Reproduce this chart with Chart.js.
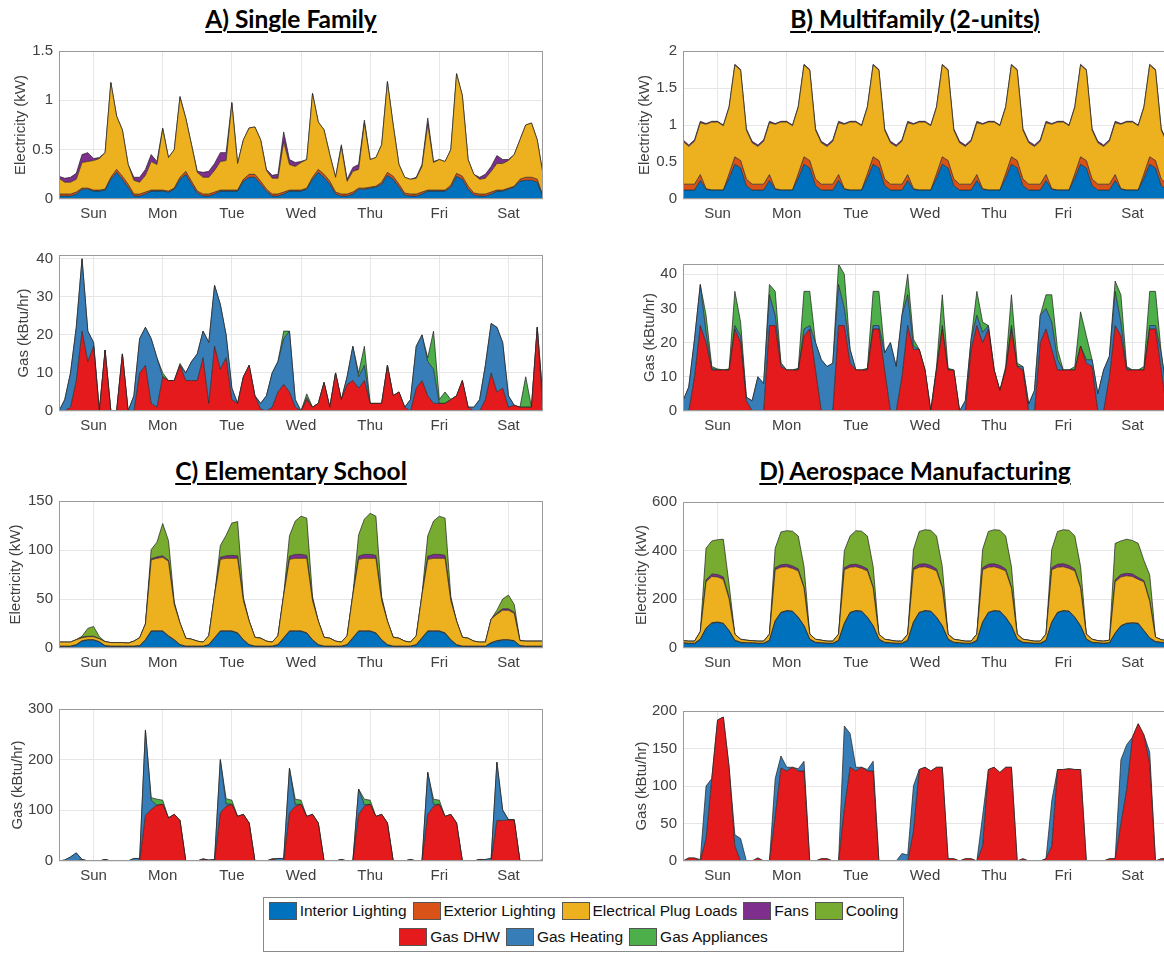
<!DOCTYPE html>
<html>
<head>
<meta charset="utf-8">
<script src="https://cdn.jsdelivr.net/npm/chart.js@4.4.0/dist/chart.umd.min.js"></script>
<style>
  html, body { margin:0; padding:0; background:#fff; }
  body { width:1164px; height:954px; overflow:hidden; position:relative; }
  .ttl { position:absolute; width:500px; text-align:center; font:bold 24.5px Lato, "Open Sans", sans-serif;
         text-decoration:underline; text-underline-offset:3px; color:#000; }
  #legend { position:absolute; left:263px; top:897px; width:641px; height:55px; border:1px solid #8a8a8a;
            box-sizing:border-box; font:15.5px "Liberation Sans", Arial, sans-serif; color:#111; }
  .row { display:flex; justify-content:center; align-items:center; height:26px; }
  .item { display:flex; align-items:center; margin:0 3px; }
  .sw { width:28px; height:18px; border:1px solid #555; box-sizing:border-box; margin-right:3px; }
</style>
</head>
<body>
<div class="ttl" style="left:41px;top:4px">A) Single Family</div>
<div class="ttl" style="left:665px;top:4px">B) Multifamily (2-units)</div>
<div class="ttl" style="left:41px;top:456px">C) Elementary School</div>
<div class="ttl" style="left:665px;top:456px">D) Aerospace Manufacturing</div>
<div id="legend"></div>
<script>
'use strict'

const dayNames = ['Sun','Mon','Tue','Wed','Thu','Fri','Sat']
const dayTicks = [12,36,60,84,108,132,156]
const hours = Array.from({length: 85}, (_, i) => i * 2)   // 2-hour steps over one week

const colors = {
  interior: '#0072BD', exterior: '#D95319', plug: '#EDB120', fans: '#7E2F8E', cooling: '#77AC30',
  dhw: '#E41A1C', heating: '#377EB8', appliances: '#4DAF4A'
}

// ---------- A) Single Family ----------
const aInterior = [
  0.03,0.03,0.03,0.05,0.10,0.10,0.08,0.08,0.09,0.20,0.27,0.20,
  0.12,0.03,0.03,0.05,0.08,0.08,0.08,0.07,0.10,0.20,0.25,0.15,
  0.06,0.03,0.03,0.05,0.08,0.08,0.08,0.08,0.18,0.22,0.22,0.15,
  0.08,0.03,0.03,0.05,0.08,0.08,0.08,0.10,0.20,0.27,0.22,0.15,
  0.05,0.03,0.03,0.05,0.10,0.10,0.11,0.12,0.15,0.24,0.20,0.12,
  0.04,0.03,0.03,0.05,0.08,0.08,0.08,0.08,0.12,0.23,0.20,0.10,
  0.04,0.03,0.03,0.05,0.08,0.08,0.10,0.12,0.18,0.19,0.19,0.17,
  0.02]
const aExterior = [
  0.02,0.02,0.02,0.02,0.01,0.01,0.01,0.01,0.01,0.02,0.03,0.03,
  0.03,0.02,0.02,0.02,0.01,0.01,0.01,0.01,0.01,0.02,0.03,0.03,
  0.02,0.02,0.02,0.02,0.01,0.01,0.01,0.01,0.02,0.03,0.03,0.03,
  0.02,0.02,0.02,0.02,0.01,0.01,0.01,0.01,0.02,0.03,0.03,0.03,
  0.02,0.02,0.02,0.02,0.01,0.01,0.01,0.01,0.02,0.03,0.03,0.03,
  0.02,0.02,0.02,0.02,0.01,0.01,0.01,0.01,0.02,0.03,0.03,0.03,
  0.02,0.02,0.02,0.02,0.01,0.01,0.01,0.01,0.02,0.03,0.03,0.03,
  0.01]
const aPlug = [
  0.16,0.12,0.12,0.13,0.26,0.27,0.30,0.32,0.37,0.96,0.54,0.47,
  0.20,0.14,0.12,0.17,0.29,0.26,0.62,0.34,0.39,0.81,0.54,0.37,
  0.19,0.17,0.17,0.22,0.29,0.30,0.88,0.27,0.40,0.47,0.48,0.42,
  0.19,0.16,0.16,0.51,0.26,0.24,0.28,0.29,0.85,0.48,0.45,0.27,
  0.15,0.48,0.13,0.21,0.19,0.66,0.28,0.29,0.38,0.92,0.52,0.20,
  0.16,0.15,0.16,0.26,0.67,0.28,0.31,0.29,0.36,1.01,0.82,0.27,
  0.19,0.15,0.16,0.21,0.27,0.27,0.28,0.32,0.40,0.53,0.55,0.40,
  0.22]
const aFans = [
  0.02,0.04,0.05,0.06,0.08,0.09,0.02,0.01,0,0,0,0,
  0,0.03,0.05,0.06,0.07,0.03,0.01,0,0,0.01,0,0,
  0.01,0.05,0.06,0.07,0.09,0.08,0.01,0,0,0,0,0,
  0.01,0.03,0.04,0.10,0.05,0.04,0.01,0,0,0,0,0,
  0,0.02,0.02,0.04,0.05,0.03,0,0,0,0,0,0,
  0,0,0.01,0.02,0.06,0.01,0,0,0,0,0,0,
  0,0.02,0.04,0.05,0.08,0.04,0.01,0,0,0,0,0,
  0]
const aGasDhw = [
  0,0,1,8,21,13,17,0,16,0,0,15,
  0,0,10,12,2,1,9,8,8,12,8,8,
  8,14,2,17,11,14,3,2,9,12,4,0.5,
  0,1,5,7,5,1,0,3,1,2,7.5,1,
  10,3,7,8,6,8,2,2,2,12,4,5,
  1,0,6,8,4,2,2,2,3,4,8,1,
  0,0,3,10,5,6,1,1.5,1,1,1,22,
  0]
const aGasHeating = [
  0,3,9,14,19,8,1,0,0,0,0,0,
  0,4,9,10,17,13,0,0,0,0,2,5,
  7,7,16,16,17,6,3,0,0,0,0,1.5,
  4,9,8,12,16,2,0,0.5,0,0,0,0,
  0,0,2,9,3,4,0,0,0,0,0,0,
  0,3,11,12,9,9,0,0,0,0,0,0,
  1,3,9,13,17,12,3,0,0,0,0,0,
  3]
const aGasAppl = [
  0,0,0,0,0,0,0,0,0,0,0,0,
  0,0,0,0,0,0,1,0,0,0.5,0,0,
  0,0,0,0,0,0,0,0,0,0,0,0,
  0,0,0,2,0,0,0,1,0,0,0,0,
  0,0,0,0,1,5,0,0,0,0,0,0,
  0,0,0,0,1,10,1,3,0,0,0,0,
  0,0,0,0,0,0,0,0,0,8,0,0,
  0]

// ---------- B) Multifamily ----------
const bInterior = [
  0.12,0.12,0.12,0.25,0.13,0.12,0.12,0.12,0.28,0.47,0.42,0.18,
  0.12,0.12,0.12,0.25,0.13,0.12,0.12,0.12,0.28,0.47,0.42,0.18,
  0.12,0.12,0.12,0.25,0.13,0.12,0.12,0.12,0.28,0.47,0.42,0.18,
  0.12,0.12,0.12,0.25,0.13,0.12,0.12,0.12,0.28,0.47,0.42,0.18,
  0.12,0.12,0.12,0.25,0.13,0.12,0.12,0.12,0.28,0.47,0.42,0.18,
  0.12,0.12,0.12,0.25,0.13,0.12,0.12,0.12,0.28,0.47,0.42,0.18,
  0.12,0.12,0.12,0.25,0.13,0.12,0.12,0.12,0.28,0.47,0.42,0.18,
  0.12]
const bExterior = [
  0.08,0.08,0.08,0.08,0.01,0,0,0,0.06,0.10,0.10,0.09,
  0.08,0.08,0.08,0.08,0.01,0,0,0,0.06,0.10,0.10,0.09,
  0.08,0.08,0.08,0.08,0.01,0,0,0,0.06,0.10,0.10,0.09,
  0.08,0.08,0.08,0.08,0.01,0,0,0,0.06,0.10,0.10,0.09,
  0.08,0.08,0.08,0.08,0.01,0,0,0,0.06,0.10,0.10,0.09,
  0.08,0.08,0.08,0.08,0.01,0,0,0,0.06,0.10,0.10,0.09,
  0.08,0.08,0.08,0.08,0.01,0,0,0,0.06,0.10,0.10,0.09,
  0.08]
const bPlug = [
  0.58,0.51,0.58,0.70,0.87,0.92,0.92,0.87,0.90,1.24,1.22,0.66,
  0.56,0.51,0.58,0.70,0.87,0.92,0.92,0.87,0.90,1.24,1.22,0.66,
  0.56,0.51,0.58,0.70,0.87,0.92,0.92,0.87,0.90,1.24,1.22,0.66,
  0.56,0.51,0.58,0.70,0.87,0.92,0.92,0.87,0.90,1.24,1.22,0.66,
  0.56,0.51,0.58,0.70,0.87,0.92,0.92,0.87,0.90,1.24,1.22,0.66,
  0.56,0.51,0.58,0.70,0.87,0.92,0.92,0.87,0.90,1.24,1.22,0.66,
  0.56,0.51,0.58,0.70,0.87,0.92,0.92,0.87,0.90,1.24,1.22,0.66,
  0.56]
const bFans = [
  0.02,0.02,0.02,0.02,0.01,0.01,0.01,0.01,0.01,0.01,0.01,0.02,
  0.02,0.02,0.02,0.02,0.01,0.01,0.01,0.01,0.01,0.01,0.01,0.02,
  0.02,0.02,0.02,0.02,0.01,0.01,0.01,0.01,0.01,0.01,0.01,0.02,
  0.02,0.02,0.02,0.02,0.01,0.01,0.01,0.01,0.01,0.01,0.01,0.02,
  0.02,0.02,0.02,0.02,0.01,0.01,0.01,0.01,0.01,0.01,0.01,0.02,
  0.02,0.02,0.02,0.02,0.01,0.01,0.01,0.01,0.01,0.01,0.01,0.02,
  0.02,0.02,0.02,0.02,0.01,0.01,0.01,0.01,0.01,0.01,0.01,0.02,
  0.02]
const bGasDhw = [
  0,0,10,25,20,12,12,12,12,24,20,3,
  0,0,0,25,25,13,12,12,12,22,24,12,
  0,0,0,25,25,14,12,12,12,24,24,12,
  0,0,10,25,18,18,12,0,12,24,12,12,
  0,0,18,25,20,24,12,6,12,24,13,12,
  0,0,20,24,18,12,12,12,12,19,14,13,
  0,0,10,25,22,12,12,12,12,24,24,12,
  0]
const bGasHeating = [
  3,7,11,12,3,0.5,0,0,0,1,2,1,
  3,10,8,9,3,1,0,0,0,2,1,8,
  15,13,14,12,5,4,0,0,0,1,1,5,
  20,13,18,9,1,0,0,0,0,1,0,0,
  0,3,3,3,3,1,0,0,0,1,0,1,
  2,6,8,6,8,3,0,0,0,0,1,2,
  5,12,6,10,4,0.5,0,0,0,1,1,5,
  5]
const bGasAppl = [
  0,0,0,0,5,0.5,0.3,0,0.3,10,4,0,
  0,0,0,3,7,0,0,0,0.5,11,10,0,
  0,0,0,6,10,0,0,0,0.5,10,10,0,
  0,0,0,6,2,0,0,0,1,9,0.5,0,
  0,0,0,7,3,0,0,0,1,9,1,0,
  0,0,0,4,8,3,0,0,1,10,7,0,
  0,0,0,3,8,0.5,0,0,1,10,10,0,
  0]

// ---------- C) Elementary School ----------
const cInterior = [
  1.5,1.5,1.5,3,7,8,8,6,2,1.5,1.5,1.5,
  1.5,1.5,2,8,17,17,17,12,8,3,1.5,1.5,
  1.5,1.5,3,10,17,17,17,15,8,3,1.5,1.5,
  1.5,1.5,3,10,17,17,17,15,8,3,1.5,1.5,
  1.5,1.5,3,10,17,17,17,15,8,3,1.5,1.5,
  1.5,1.5,3,10,17,17,17,15,8,3,1.5,1.5,
  1.5,1.5,1.5,5,7,8,8,7,2,1.5,1.5,1.5,
  1.5]
const cExterior = [
  0.5,0.5,0.5,0.5,0.5,0.5,0.5,0.5,0.5,0.5,0.5,0.5,
  0.5,0.5,0.5,0.5,0.5,0.5,0.5,0.5,0.5,0.5,0.5,0.5,
  0.5,0.5,0.5,0.5,0.5,0.5,0.5,0.5,0.5,0.5,0.5,0.5,
  0.5,0.5,0.5,0.5,0.5,0.5,0.5,0.5,0.5,0.5,0.5,0.5,
  0.5,0.5,0.5,0.5,0.5,0.5,0.5,0.5,0.5,0.5,0.5,0.5,
  0.5,0.5,0.5,0.5,0.5,0.5,0.5,0.5,0.5,0.5,0.5,0.5,
  0.5,0.5,0.5,0.5,0.5,0.5,0.5,0.5,0.5,0.5,0.5,0.5,
  0.5]
const cPlug = [
  4,4,4,5,3,3,3,3,4,3.5,3.5,3.5,
  3,5,8,16,72.5,74,75,76,36,22,8,7,
  5,4,9,44,73,74,74,76,40,24,9,8,
  5,4,9,44,73,74,74,76,40,24,9,8,
  5,4,9,44,73,74,74,76,40,24,9,8,
  5,4,9,44,73,74,74,76,40,24,9,8,
  5,4,4,24,27,30,30,28,5,5,5,5,
  5]
const cFans = [
  0,0,0,0,0.5,0.5,0.5,0,0,0,0,0,
  0,0,0,0,1,1.5,1.5,1,0.5,0,0,0,
  0,0,0,0,2,2.5,3,2.5,1,0,0,0,
  0,0,0,0,3,4,4,3,1,0,0,0,
  0,0,0,0,3,4,4,3,1,0,0,0,
  0,0,0,0,3,4,4,3,1,0,0,0,
  0,0,0,0,1,1.5,1.5,1,0,0,0,0,
  0]
const cCooling = [
  0,0,0,0,1,8,10,2,0,0,0,0,
  0,0,0,0,9.5,15,33,20,2,0,0,0,
  0,0,0,0,12,21,33,35,2,0,0,0,
  0,0,0,0,21,34,39,38,3,0,0,0,
  0,0,0,0,22,36,42,40,3,0,0,0,
  0,0,0,0,21,34,39,38,3,0,0,0,
  0,0,0,0,3,10,14,8,0,0,0,0,
  0]
const cGasDhw = [
  0,0,0,0,3,0,0,0,3,0,0,0,
  0,1,0,90,102,110,112,85,92,80,0,0,
  0,4,0,0,95,108,112,88,92,75,0,0,
  0,4,0,0,95,108,112,88,92,75,0,0,
  0,3,0,0,92,108,112,88,92,75,0,0,
  0,3,0,0,92,108,112,88,92,75,0,0,
  0,3,0,0,80,80,81,81,0,0,0,0,
  2]
const cGasHeating = [
  0,2,8,16,0,0,0,0,0,0,0,0,
  0,4,5,168,18,0,0,0,0,0,0,0,
  0,0,2,3,105,5,0,0,0,0,0,0,
  0,0,5,5,88,4,0,0,0,0,0,0,
  0,0,0,0,50,3,0,0,0,0,0,0,
  0,0,0,0,83,4,0,0,0,0,0,0,
  0,0,3,5,115,20,0,0,0,0,0,0,
  0]
const cGasAppl = [
  0,0,0,0,0,0,0,0,0,0,0,0,
  0,0,0,0,5,12,8,0,0,0,0,0,
  0,0,0,0,0,10,8,0,0,0,0,0,
  0,0,0,0,0,10,8,0,0,0,0,0,
  0,0,0,0,0,11,8,0,0,0,0,0,
  0,0,0,0,0,10,8,0,0,0,0,0,
  0,0,0,0,0,1,1,1,0,0,0,0,
  0]

// ---------- D) Aerospace Manufacturing ----------
const dInterior = [
  20,18,18,35,80,102,105,100,70,30,22,20,
  20,18,18,30,110,145,152,150,125,90,35,22,
  20,18,18,30,100,145,152,150,125,90,35,22,
  20,18,18,30,105,145,152,150,125,90,35,22,
  20,18,18,30,105,145,152,150,125,90,35,22,
  20,18,18,30,105,145,152,150,125,90,35,22,
  20,18,20,60,90,100,102,100,70,40,25,22,
  20]
const dExterior = [
  2,2,2,2,2,2,2,2,2,2,2,2,
  2,2,2,2,2,2,2,2,2,2,2,2,
  2,2,2,2,2,2,2,2,2,2,2,2,
  2,2,2,2,2,2,2,2,2,2,2,2,
  2,2,2,2,2,2,2,2,2,2,2,2,
  2,2,2,2,2,2,2,2,2,2,2,2,
  2,2,2,2,2,2,2,2,2,2,2,2,
  2]
const dPlug = [
  8,8,8,30,190,190,185,180,130,25,12,10,
  8,8,8,25,210,185,180,175,190,155,20,12,
  10,8,8,25,220,185,180,175,190,155,20,12,
  10,8,8,25,215,185,180,175,190,155,20,12,
  10,8,8,25,215,185,180,175,190,155,20,12,
  10,8,8,25,215,185,180,175,190,155,20,12,
  8,8,10,210,200,195,190,180,200,150,18,10,
  8]
const dFans = [
  0,0,0,0,8,10,10,10,5,0,0,0,
  0,0,0,0,8,10,10,10,8,3,0,0,
  0,0,0,0,8,10,10,10,8,3,0,0,
  0,0,0,0,8,12,12,12,8,3,0,0,
  0,0,0,0,8,12,12,12,8,3,0,0,
  0,0,0,0,8,12,12,12,8,3,0,0,
  0,0,0,8,10,10,10,8,5,3,0,0,
  0]
const dCooling = [
  0,0,0,0,130,136,143,155,53,0,0,0,
  0,0,0,0,80,135,138,143,135,85,0,0,
  0,0,0,0,70,118,138,143,135,85,0,0,
  0,0,0,0,75,135,140,145,135,85,0,0,
  0,0,0,0,75,135,140,145,135,85,0,0,
  0,0,0,0,75,135,140,145,135,85,0,0,
  0,0,0,150,138,140,138,140,83,105,0,0,
  0]
const dGasDhw = [
  0,4,4,0,30,110,188,192,125,20,0,0,
  0,4,0,0,60,124,120,125,120,120,0,0,
  3,3,0,0,70,125,120,125,120,120,0,0,
  0,0,0,0,40,122,125,120,125,125,3,3,
  0,3,3,0,20,122,125,118,125,125,0,3,
  0,0,0,3,20,122,122,123,122,122,0,0,
  0,0,3,3,50,95,165,183,168,130,0,3,
  3]
const dGasHeating = [
  0,0,0,2,70,0,0,0,0,15,30,0,
  0,0,0,0,50,16,5,0,3,13,0,0,
  0,0,0,0,110,45,5,0,2,13,0,0,
  0,0,10,8,60,0,0,0,0,0,0,0,
  0,0,0,0,40,0,0,0,0,0,0,0,
  0,0,0,0,60,0,0,0,0,0,0,0,
  0,0,0,0,85,60,0,0,0,15,0,0,
  0]

// axis tick values
const aElecTicks = [0,0.5,1,1.5]
const aGasTicks = [0,10,20,30,40]
const bElecTicks = [0,0.5,1,1.5,2]
const bGasTicks = [0,10,20,30,40]
const cElecTicks = [0,50,100,150]
const cGasTicks = [0,100,200,300]
const dElecTicks = [0,200,400,600]
const dGasTicks = [0,50,100,150,200]

const elecTitle = 'Electricity (kW)'
const gasTitle = 'Gas (kBtu/hr)'

const elec = (int, ext, plug, fans, cool) => {
  const s = [
    {name:'Interior Lighting', values:int, color:colors.interior},
    {name:'Exterior Lighting', values:ext, color:colors.exterior},
    {name:'Electrical Plug Loads', values:plug, color:colors.plug},
    {name:'Fans', values:fans, color:colors.fans}]
  if (cool) s.push({name:'Cooling', values:cool, color:colors.cooling})
  return s
}
const gas = (dhw, heat, appl) => {
  const s = [
    {name:'Gas DHW', values:dhw, color:colors.dhw},
    {name:'Gas Heating', values:heat, color:colors.heating}]
  if (appl) s.push({name:'Gas Appliances', values:appl, color:colors.appliances})
  return s
}

const panels = [
  {left:8,   plotLeft:59,  top:46,  bottom:199, max:1.5, ticks:aElecTicks, title:elecTitle, series:elec(aInterior,aExterior,aPlug,aFans)},
  {left:11,  plotLeft:59,  top:250, bottom:411, max:41,  ticks:aGasTicks,  title:gasTitle,  series:gas(aGasDhw,aGasHeating,aGasAppl)},
  {left:632, plotLeft:683, top:46,  bottom:199, max:2,   ticks:bElecTicks, title:elecTitle, series:elec(bInterior,bExterior,bPlug,bFans)},
  {left:637, plotLeft:683, top:259, bottom:411, max:43,  ticks:bGasTicks,  title:gasTitle,  series:gas(bGasDhw,bGasHeating,bGasAppl)},
  {left:3,   plotLeft:59,  top:496, bottom:648, max:150, ticks:cElecTicks, title:elecTitle, series:elec(cInterior,cExterior,cPlug,cFans,cCooling)},
  {left:5,   plotLeft:59,  top:704, bottom:861, max:300, ticks:cGasTicks,  title:gasTitle,  series:gas(cGasDhw,cGasHeating,cGasAppl)},
  {left:629, plotLeft:683, top:497, bottom:648, max:600, ticks:dElecTicks, title:elecTitle, series:elec(dInterior,dExterior,dPlug,dFans,dCooling)},
  {left:629, plotLeft:683, top:706, bottom:861, max:200, ticks:dGasTicks,  title:gasTitle,  series:gas(dGasDhw,dGasHeating)}
]

const PLOT_W = 484, PAD_TOP = 10, PAD_RIGHT = 4, X_AXIS_H = 30
const tickFont = {family:'"Liberation Sans", Arial, sans-serif', size:15}

// box round the plot area
const frame = {
  id: 'frame',
  afterDraw(chart) {
    const {ctx, chartArea: a} = chart
    ctx.save()
    ctx.strokeStyle = '#9a9a9a'
    ctx.lineWidth = 1
    ctx.strokeRect(Math.round(a.left) + 0.5, Math.round(a.top) + 0.5,
                   Math.round(a.right - a.left) - 1, Math.round(a.bottom - a.top) - 1)
    ctx.restore()
  }
}

panels.forEach(p => {
  const cv = document.createElement('canvas')
  const w = p.plotLeft - p.left + PLOT_W + PAD_RIGHT
  const h = p.bottom - p.top + PAD_TOP + X_AXIS_H
  cv.width = w; cv.height = h
  cv.style.cssText = 'position:absolute;left:' + p.left + 'px;top:' + (p.top - PAD_TOP) + 'px;width:' + w + 'px;height:' + h + 'px'
  document.body.appendChild(cv)

  new Chart(cv, {
    type: 'line',
    data: {
      datasets: p.series.map((s, i) => ({
        label: s.name,
        data: s.values.map((v, k) => ({x: hours[k], y: v})),
        backgroundColor: s.color,
        borderColor: 'rgba(35,35,35,0.9)',
        borderWidth: 0.8,
        fill: i === 0 ? 'origin' : '-1',
        pointRadius: 0,
        tension: 0
      }))
    },
    options: {
      responsive: false,
      animation: false,
      layout: {padding: {top: PAD_TOP, right: PAD_RIGHT, left: 0, bottom: 0}},
      plugins: {legend: {display: false}, tooltip: {enabled: false}},
      scales: {
        x: {
          type: 'linear', min: 0, max: 168,
          afterBuildTicks: s => { s.ticks = dayTicks.map(v => ({value: v})) },
          afterFit: s => { s.height = X_AXIS_H },
          ticks: {autoSkip: false, maxRotation: 0, padding: 6, color: '#404040', font: tickFont,
                  callback: v => dayNames[dayTicks.indexOf(v)]},
          grid: {color: '#e6e6e6', drawTicks: false},
          border: {display: false}
        },
        y: {
          stacked: true, min: 0, max: p.max,
          afterBuildTicks: s => { s.ticks = p.ticks.map(v => ({value: v})) },
          afterFit: s => { s.width = p.plotLeft - p.left },
          ticks: {padding: 6, color: '#404040', font: tickFont, callback: v => String(v)},
          grid: {color: '#e6e6e6', drawTicks: false},
          border: {display: false},
          title: {display: true, text: p.title, color: '#404040', font: tickFont, padding: {top: 4, bottom: 0}}
        }
      }
    },
    plugins: [frame]
  })
})

// legend
const legendRows = [
  [['Interior Lighting', colors.interior], ['Exterior Lighting', colors.exterior], ['Electrical Plug Loads', colors.plug],
   ['Fans', colors.fans], ['Cooling', colors.cooling]],
  [['Gas DHW', colors.dhw], ['Gas Heating', colors.heating], ['Gas Appliances', colors.appliances]]
]
const lg = document.getElementById('legend')
legendRows.forEach(r => {
  const row = document.createElement('div')
  row.className = 'row'
  r.forEach(([name, col]) => {
    const it = document.createElement('div')
    it.className = 'item'
    const sw = document.createElement('div')
    sw.className = 'sw'
    sw.style.background = col
    it.appendChild(sw)
    it.appendChild(document.createTextNode(name))
    row.appendChild(it)
  })
  lg.appendChild(row)
})
</script>
</body>
</html>
